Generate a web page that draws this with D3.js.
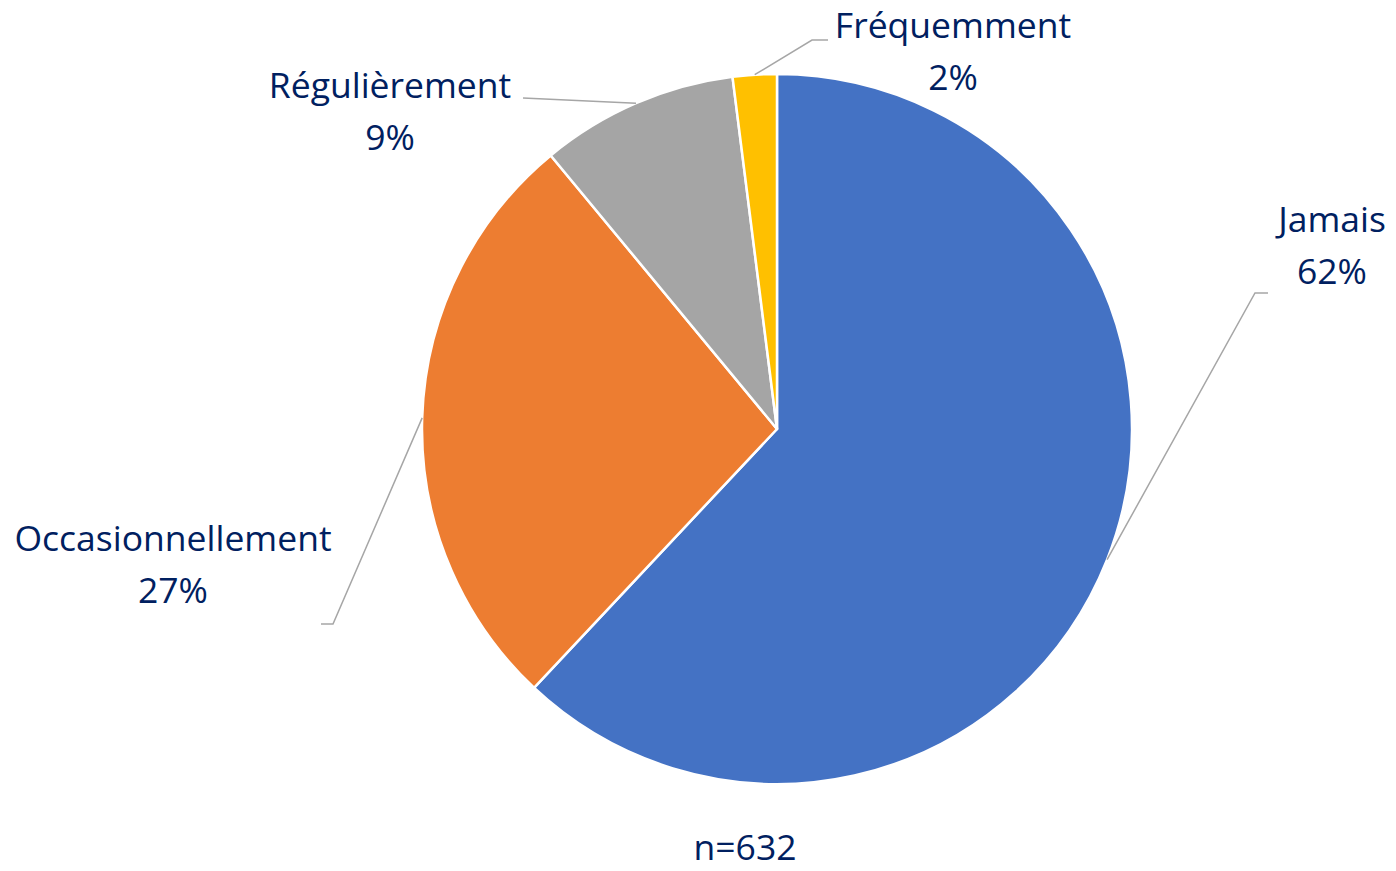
<!DOCTYPE html>
<html>
<head>
<meta charset="utf-8">
<script src="https://cdn.jsdelivr.net/npm/d3@7"></script>
<style>
  html, body { margin: 0; padding: 0; background: #fff; }
  svg { display: block; }
  text { font-family: "Open Sans", "Noto Sans", sans-serif; fill: #002060; }
</style>
</head>
<body>
<svg id="chart" width="1396" height="871"></svg>
<script>
// data
const categories = ['Jamais', 'Occasionnellement', 'Régulièrement', 'Fréquemment'];
const percents = [62, 27, 9, 2];
const sampleNote = 'n=632';

const colors = ['#4472C4', '#ED7D31', '#A5A5A5', '#FFC000'];

// layout: label centre, leader elbow and end for each slice
const labelPos = [
  {x: 1332, y: 232, elbow: [1255, 293], end: [1268, 293]},
  {x: 173, y: 551, elbow: [333, 624], end: [321, 624]},
  {x: 390, y: 98, elbow: [523, 98], end: [523, 98]},
  {x: 953, y: 38, elbow: [812, 40], end: [828, 40]}
];

const cx = 777, cy = 429, radius = 355;
const fontSize = 35.5;
const lineGap = 52;

const svg = d3.select('#chart');
const g = svg.append('g').attr('transform', `translate(${cx},${cy})`);

const pie = d3.pie().sort(null).value(d => d.value);
const arcs = pie(categories.map((c, i) => ({label: c, value: percents[i], idx: i})));
const arc = d3.arc().innerRadius(0).outerRadius(radius);

g.selectAll('path.slice')
  .data(arcs)
  .enter()
  .append('path')
  .attr('class', 'slice')
  .attr('d', arc)
  .style('fill', d => colors[d.data.idx])
  .style('stroke', '#fff')
  .style('stroke-width', 2.5)
  .style('stroke-linejoin', 'round');

// leader lines start on the rim at each slice's mid angle
const rimPoint = d => {
  const a = (d.startAngle + d.endAngle) / 2;
  return [cx + radius * Math.sin(a), cy - radius * Math.cos(a)];
};

svg.selectAll('polyline.leader')
  .data(arcs)
  .enter()
  .append('polyline')
  .attr('class', 'leader')
  .attr('points', d => {
    const p = labelPos[d.data.idx];
    return [rimPoint(d), p.elbow, p.end].map(q => q.join(',')).join(' ');
  })
  .style('fill', 'none')
  .style('stroke', '#A6A6A6')
  .style('stroke-width', 1.5);

const labels = svg.selectAll('text.lbl')
  .data(arcs)
  .enter()
  .append('text')
  .attr('class', 'lbl')
  .attr('text-anchor', 'middle')
  .style('font-size', fontSize + 'px');

labels.append('tspan')
  .attr('x', d => labelPos[d.data.idx].x)
  .attr('y', d => labelPos[d.data.idx].y)
  .text(d => d.data.label);

labels.append('tspan')
  .attr('x', d => labelPos[d.data.idx].x)
  .attr('y', d => labelPos[d.data.idx].y + lineGap)
  .text(d => d.data.value + '%');

svg.append('text')
  .attr('x', 745)
  .attr('y', 860)
  .attr('text-anchor', 'middle')
  .style('font-size', fontSize + 'px')
  .text(sampleNote);
</script>
</body>
</html>
